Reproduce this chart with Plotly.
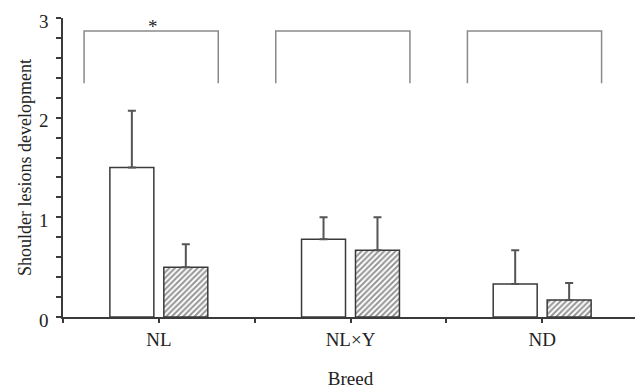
import plotly.graph_objects as go

categories = ["NL", "NL×Y", "ND"]
open_values = [1.50, 0.78, 0.33]
open_err = [0.57, 0.22, 0.34]
hatched_values = [0.50, 0.67, 0.17]
hatched_err = [0.23, 0.33, 0.17]
significance = ["*", "", ""]
y_ticks = [0, 1, 2, 3]

xpos = list(range(len(categories)))
font_family = "Liberation Serif, Times New Roman, serif"
dark = "#3a3a3a"

fig = go.Figure()
fig.add_trace(go.Bar(
    x=xpos, y=open_values, name="open",
    marker=dict(color="white", line=dict(color=dark, width=1.5)),
    error_y=dict(type="data", array=open_err, arrayminus=[0]*3, symmetric=False,
                 color="#555555", thickness=2, width=4),
))
fig.add_trace(go.Bar(
    x=xpos, y=hatched_values, name="hatched",
    marker=dict(color="white", line=dict(color=dark, width=1.5),
                pattern=dict(shape="/", fgcolor="#2a2a2a", bgcolor="white", size=4, solidity=0.5)),
    error_y=dict(type="data", array=hatched_err, arrayminus=[0]*3, symmetric=False,
                 color="#555555", thickness=2, width=4),
))

# brackets over each breed group
for i, sig in zip(xpos, significance):
    x0, x1 = i - 0.39, i + 0.31
    fig.add_shape(type="path",
                  path=f"M {x0} 2.345 L {x0} 2.87 L {x1} 2.87 L {x1} 2.345",
                  xref="x", yref="y", line=dict(color="#8a8a8a", width=1.5))
    if sig:
        fig.add_annotation(x=(x0 + x1) / 2, y=2.87, text=sig, showarrow=False,
                           yanchor="bottom", yshift=-8, xshift=2,
                           font=dict(family=font_family, size=19, color="#222222"))

tickvals = []
ticktext = []
for i, c in zip(xpos, categories):
    tickvals += [i - 0.5, i]
    ticktext += ["", c]
tickvals.append(xpos[-1] + 0.5)
ticktext.append("")

fig.update_layout(
    width=635, height=381,
    margin=dict(l=55, r=5, t=10, b=72),
    plot_bgcolor="white", paper_bgcolor="white",
    barmode="group", bargap=0.437, bargroupgap=0.185,
    showlegend=False,
    font=dict(family=font_family, size=19, color="#222222"),
    xaxis=dict(range=[-0.5, 2.5], tickvals=tickvals, ticktext=ticktext,
               automargin=False, ticklabeloverflow="allow",
               showline=True, linecolor=dark, linewidth=1.5,
               ticks="outside", ticklen=4, tickwidth=1.5, tickcolor=dark,
               ticklabelstandoff=0,
               showgrid=False, zeroline=False,
               title=dict(text="Breed", standoff=25, font=dict(size=19))),
    yaxis=dict(range=[0, 3], tickvals=y_ticks,
               automargin=False, ticklabeloverflow="allow",
               showline=True, linecolor=dark, linewidth=1.5,
               ticks="outside", ticklen=5, tickwidth=1.5, tickcolor=dark,
               minor=dict(dtick=0.2, ticks="outside", ticklen=5, tickwidth=1.5, tickcolor=dark, showgrid=False),
               ticklabelstandoff=4, ticklabelshift=3,
               showgrid=False, zeroline=False,
               title=dict(text="Shoulder lesions development", standoff=3, font=dict(size=18))),
)

fig.write_html("out.html")
